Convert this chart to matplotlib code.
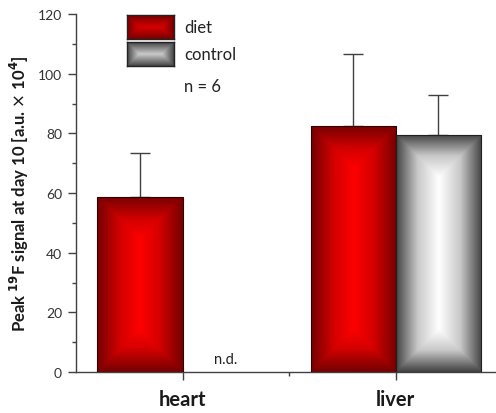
"""Peak 19F signal at day 10: diet vs control, heart and liver, gradient-filled bars."""

import numpy as np
import matplotlib

matplotlib.use("Agg")
import matplotlib.pyplot as plt
from matplotlib.colors import LinearSegmentedColormap
from matplotlib.ticker import MultipleLocator, FixedLocator

CATEGORIES = ["heart", "liver"]
DIET_MEAN = [58.7, 82.5]
DIET_ERR = [14.7, 24.1]
CONTROL_MEAN = [np.nan, 79.5]  # heart control not detected
CONTROL_ERR = [np.nan, 13.5]
N_LABEL = "n = 6"

plt.rcParams["font.family"] = ["Lato", "DejaVu Sans"]

RED = LinearSegmentedColormap.from_list("red", ["#ff0000", "#d40000", "#760000"])
GRAY = LinearSegmentedColormap.from_list("gray", ["#ffffff", "#c8c8c8", "#444444"])
AXC = "#404040"


def rect_gradient(w_px, h_px, center_frac=0.5, power=1.0, n=200):
    """Origin-style rectangular gradient: 0 at the centre line, 1 at the edges."""
    xs = np.linspace(-1, 1, n) * w_px / 2
    ys = (np.linspace(0, 1, n) - center_frac) * h_px
    X, Y = np.meshgrid(xs, ys)
    half = w_px / 2
    up = center_frac * h_px
    down = (1 - center_frac) * h_px
    dy = np.where(Y < 0, -Y - (up - half), Y - (down - half))
    t = np.clip(np.maximum(np.abs(X), dy) / half, 0, 1)
    return t**power


def fill_bar(ax, patch, cmap, center_frac, power):
    x0, w, h = patch.get_x(), patch.get_width(), patch.get_height()
    # pixel sizes keep the corner lines at 45 degrees
    tr = ax.transData
    p0 = tr.transform((x0, 0))
    p1 = tr.transform((x0 + w, h))
    g = rect_gradient(abs(p1[0] - p0[0]), abs(p1[1] - p0[1]), center_frac, power)
    im = ax.imshow(g, cmap=cmap, vmin=0, vmax=1, extent=(x0, x0 + w, h, 0),
                   aspect="auto", origin="upper", zorder=2, interpolation="bilinear")
    im.set_clip_path(patch)


fig = plt.figure(figsize=(4.96, 4.14), dpi=100)
ax = fig.add_axes([76 / 496, 41 / 414, 420 / 496, 358 / 414])
ax.set_xlim(-0.5, 1.47)
ax.set_ylim(0, 120)

x = np.arange(len(CATEGORIES))
width = 0.4
diet_bars = ax.bar(x - width / 2, DIET_MEAN, width, facecolor="none",
                   edgecolor="#300000", linewidth=0.8, zorder=3)
ctrl_bars = ax.bar(x + width / 2, np.nan_to_num(CONTROL_MEAN), width, facecolor="none",
                   edgecolor="#202020", linewidth=0.8, zorder=3)

fig.canvas.draw()
for p in diet_bars:
    fill_bar(ax, p, RED, 0.56, 0.9)
for p, v in zip(ctrl_bars, CONTROL_MEAN):
    if np.isnan(v):
        p.set_visible(False)
        continue
    fill_bar(ax, p, GRAY, 0.56, 1.0)

ax.set_xlim(-0.5, 1.47)
ax.set_ylim(0, 120)

ax.errorbar(x - width / 2, DIET_MEAN, yerr=[np.zeros(len(x)), DIET_ERR], fmt="none",
            ecolor=AXC, elinewidth=1, capsize=7.5, capthick=1, zorder=1)
ax.errorbar(x + width / 2, CONTROL_MEAN, yerr=[np.zeros(len(x)), CONTROL_ERR], fmt="none",
            ecolor=AXC, elinewidth=1, capsize=7.5, capthick=1, zorder=1)

for xi, v in zip(x, CONTROL_MEAN):
    if np.isnan(v):
        ax.text(xi + width / 2, 2, "n.d.", ha="center", va="bottom", fontsize=10.5, color="#222222")

ax.spines[["top", "right"]].set_visible(False)
for s in ("left", "bottom"):
    ax.spines[s].set_color(AXC)
    ax.spines[s].set_linewidth(1)

ax.yaxis.set_major_locator(MultipleLocator(20))
ax.yaxis.set_minor_locator(MultipleLocator(10))
ax.xaxis.set_major_locator(FixedLocator(x))
ax.xaxis.set_minor_locator(FixedLocator([0.5]))
ax.set_xticklabels(CATEGORIES, fontsize=14.5, fontweight="bold", color="#1a1a1a")
ax.tick_params(axis="both", which="major", length=6, width=1, color=AXC, labelcolor="#333333")
ax.tick_params(axis="both", which="minor", length=3, width=1, color=AXC)
ax.tick_params(axis="y", labelsize=10, pad=4)
ax.tick_params(axis="x", pad=6, labelcolor="#1a1a1a")
ax.set_ylabel(r"Peak $^{\mathbf{19}}$F signal at day 10 [a.u. $\times$ 10$^{\mathbf{4}}$]",
              fontsize=12, fontweight="bold", color="#1a1a1a", labelpad=5)

# legend swatches
for i, (cmap, label) in enumerate([(RED, "diet"), (GRAY, "control")]):
    top = 16 + i * 27
    lax = fig.add_axes([127 / 496, (414 - top - 24) / 414, 47 / 496, 24 / 414])
    g = rect_gradient(47, 24, 0.5, 1.0)
    lax.imshow(g, cmap=cmap, vmin=0, vmax=1, aspect="auto", interpolation="bilinear")
    lax.set_xticks([])
    lax.set_yticks([])
    for s in lax.spines.values():
        s.set_color("#222222")
        s.set_linewidth(1)
    fig.text(184 / 496, 1 - (top + 12) / 414, label, fontsize=12, va="center",
             ha="left", color="#222222")
fig.text(184 / 496, 1 - 87 / 414, N_LABEL, fontsize=12, va="center", ha="left", color="#222222")

fig.savefig("out.png", dpi=100)
